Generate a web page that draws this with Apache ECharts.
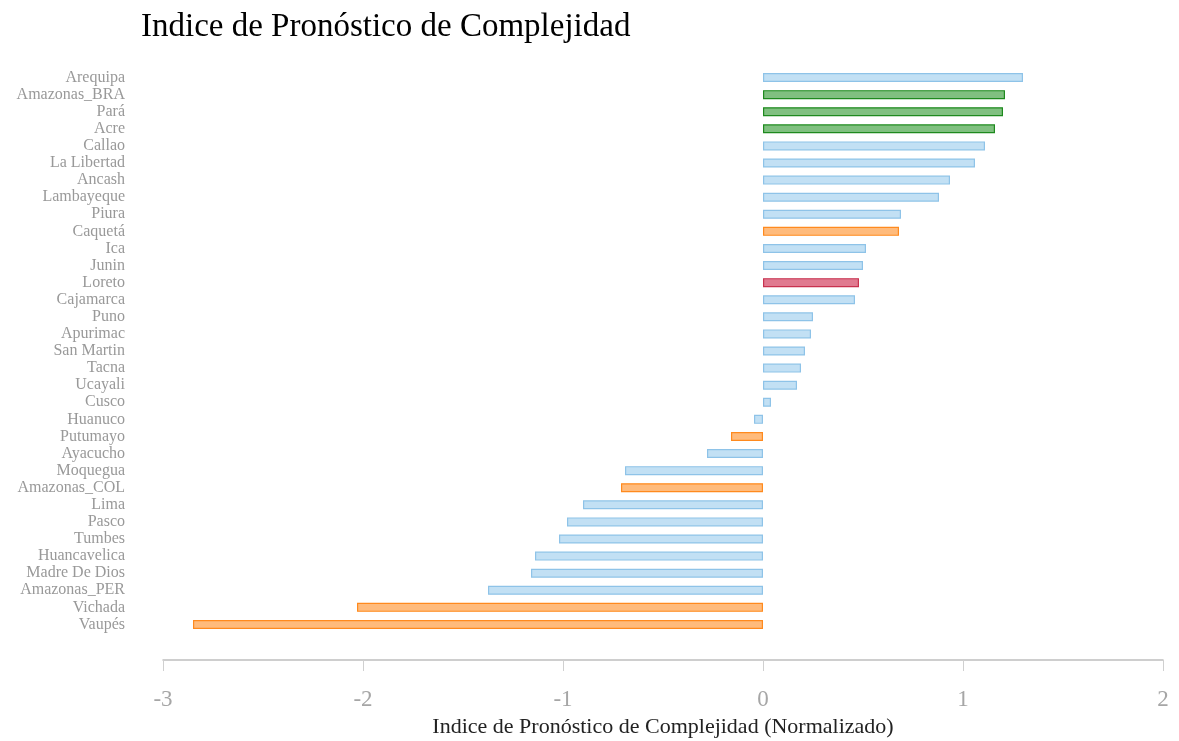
<!DOCTYPE html>
<html>
<head>
<meta charset="utf-8">
<script src="https://cdn.jsdelivr.net/npm/echarts@6/dist/echarts.min.js"></script>
<style>
  html, body { margin: 0; padding: 0; background: #fff; }
  #chart { width: 1179px; height: 741px; }
</style>
</head>
<body>
<div id="chart"></div>
<script>
// regiones, de arriba hacia abajo
const regiones = ['Arequipa', 'Amazonas_BRA', 'Pará', 'Acre', 'Callao', 'La Libertad', 'Ancash', 'Lambayeque',
  'Piura', 'Caquetá', 'Ica', 'Junin', 'Loreto', 'Cajamarca', 'Puno', 'Apurimac', 'San Martin', 'Tacna',
  'Ucayali', 'Cusco', 'Huanuco', 'Putumayo', 'Ayacucho', 'Moquegua', 'Amazonas_COL', 'Lima', 'Pasco',
  'Tumbes', 'Huancavelica', 'Madre De Dios', 'Amazonas_PER', 'Vichada', 'Vaupés'];
const indice = [1.30, 1.21, 1.20, 1.16, 1.11, 1.06, 0.935, 0.88,
  0.69, 0.68, 0.515, 0.50, 0.48, 0.46, 0.25, 0.24, 0.21, 0.19,
  0.17, 0.04, -0.045, -0.16, -0.28, -0.69, -0.71, -0.90, -0.98,
  -1.02, -1.14, -1.16, -1.375, -2.03, -2.85];
const grupo = ['PER', 'BRA', 'BRA', 'BRA', 'PER', 'PER', 'PER', 'PER',
  'PER', 'COL', 'PER', 'PER', 'LOR', 'PER', 'PER', 'PER', 'PER', 'PER',
  'PER', 'PER', 'PER', 'COL', 'PER', 'PER', 'COL', 'PER', 'PER',
  'PER', 'PER', 'PER', 'PER', 'COL', 'COL'];
const ticksX = [-3, -2, -1, 0, 1, 2];

const colores = {
  PER: { fill: '#c2e0f4', border: '#8ec3e8' },
  BRA: { fill: '#80c080', border: '#1e8a1e' },
  COL: { fill: '#ffbb7c', border: '#ff8a1e' },
  LOR: { fill: '#e07a90', border: '#c8324f' }
};

const fuente = '"Liberation Serif", "DejaVu Serif", serif';

const chart = echarts.init(document.getElementById('chart'));
chart.setOption({
  backgroundColor: '#fff',
  animation: false,
  title: {
    text: 'Indice de Pronóstico de Complejidad',
    left: 136,
    top: 6,
    textStyle: { fontFamily: fuente, fontSize: 33, fontWeight: 'normal', color: '#000' }
  },
  grid: { left: 163, right: 16, top: 69, bottom: 108, containLabel: false, outerBoundsMode: 'none' },
  xAxis: {
    type: 'value',
    min: ticksX[0],
    max: ticksX[ticksX.length - 1],
    interval: 1,
    offset: 27,
    axisLine: { show: true, lineStyle: { color: '#bfbfbf', width: 1.5 } },
    axisTick: { show: true, length: 11, lineStyle: { color: '#d0d0d0' } },
    splitLine: { show: false },
    axisLabel: { margin: 28, fontFamily: fuente, fontSize: 23, color: '#a6a6a6' },
    name: 'Indice de Pronóstico de Complejidad (Normalizado)',
    nameLocation: 'middle',
    nameGap: 56,
    nameTextStyle: { fontFamily: fuente, fontSize: 22, color: '#222' }
  },
  yAxis: {
    type: 'category',
    inverse: true,
    data: regiones,
    axisLine: { show: false },
    axisTick: { show: false },
    axisLabel: { interval: 0, margin: 38, padding: [8, 0, 0, 0], fontFamily: fuente, fontSize: 16, color: '#999' }
  },
  series: [{
    type: 'bar',
    barWidth: 9,
    data: indice.map((v, i) => ({
      value: v,
      itemStyle: { color: colores[grupo[i]].fill, borderColor: colores[grupo[i]].border, borderWidth: 1.2 }
    }))
  }]
});
</script>
</body>
</html>
